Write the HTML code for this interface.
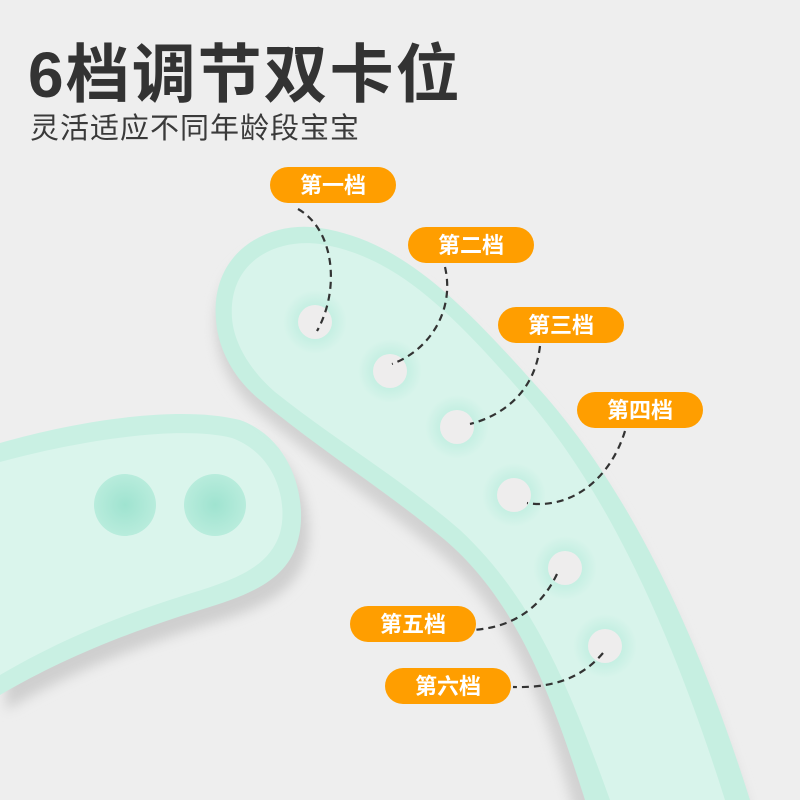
<!DOCTYPE html>
<html><head><meta charset="utf-8"><style>
html,body{margin:0;padding:0;width:800px;height:800px;overflow:hidden;background:#eeeeee}
svg{position:absolute;left:0;top:0}
.t{font-family:"Liberation Sans","Noto Sans CJK SC",sans-serif}
</style></head><body>
<svg width="800" height="800" viewBox="0 0 800 800">
<defs>
<filter id="sh" x="-20%" y="-20%" width="140%" height="140%"><feGaussianBlur stdDeviation="6"/></filter>
<radialGradient id="btn" cx="50%" cy="50%" r="50%"><stop offset="0" stop-color="#9fe3d0"/><stop offset="1" stop-color="#b8ecdc"/></radialGradient>
<radialGradient id="ring" cx="50%" cy="50%" r="50%"><stop offset="0.5" stop-color="#c4efe2"/><stop offset="1" stop-color="#d8f4eb"/></radialGradient>
</defs>
<path d="M0 448 C80 425 180 408 240 425 C295 445 310 510 300 545 C290 585 250 600 200 615 C120 640 60 665 0 700 Z" fill="#cfcfcf" filter="url(#sh)" transform="translate(6,10)"/>
<path d="M0 443 C80 420 180 405 240 420 C295 440 308 505 298 540 C288 580 250 595 200 610 C120 635 60 660 0 695 Z" fill="#c9f0e3"/>
<path d="M0 462 C80 440 180 425 232 438 C278 455 288 505 280 533 C270 565 240 578 195 592 C120 615 60 640 0 675 Z" fill="#daf5ec"/>
<circle cx="125" cy="505" r="31" fill="url(#btn)"/>
<circle cx="215" cy="505" r="31" fill="url(#btn)"/>
<path d="M216 320 C210 250 270 220 320 228 C400 240 460 300 540 390 C620 480 690 610 750 800 L575 800 C545 690 510 600 440 540 C380 490 320 450 260 400 C235 380 218 350 216 320 Z" fill="#d2d2d2" filter="url(#sh)" transform="translate(0,14)"/>
<path d="M216 320 C210 250 270 220 320 228 C400 240 460 300 540 390 C620 480 690 610 750 800 L585 800 C550 690 515 600 445 540 C385 490 320 450 260 400 C235 380 218 350 216 320 Z" fill="#c6efe1"/>
<path d="M232 318 C228 262 275 238 320 244 C395 256 450 310 528 400 C600 485 665 610 725 800 L610 800 C570 690 535 600 460 530 C400 478 335 440 275 392 C252 372 234 345 232 318 Z" fill="#d8f4eb"/>
<g>
<circle cx="315" cy="322" r="32" fill="url(#ring)"/><circle cx="315" cy="322" r="17" fill="#eeeded"/>
<circle cx="390" cy="371" r="32" fill="url(#ring)"/><circle cx="390" cy="371" r="17" fill="#eeeded"/>
<circle cx="457" cy="427" r="32" fill="url(#ring)"/><circle cx="457" cy="427" r="17" fill="#eeeded"/>
<circle cx="514" cy="495" r="32" fill="url(#ring)"/><circle cx="514" cy="495" r="17" fill="#eeeded"/>
<circle cx="565" cy="568" r="32" fill="url(#ring)"/><circle cx="565" cy="568" r="17" fill="#eeeded"/>
<circle cx="605" cy="646" r="32" fill="url(#ring)"/><circle cx="605" cy="646" r="17" fill="#eeeded"/>
</g>
<g fill="none" stroke="#333" stroke-width="2.2" stroke-dasharray="7,5">
<path d="M298 209 C335 230 340 290 317 331"/>
<path d="M445 267 C455 310 430 350 392 364"/>
<path d="M540 346 C535 390 505 415 470 424"/>
<path d="M625 431 C610 480 570 510 527 503"/>
<path d="M557 574 C540 610 510 628 472 630"/>
<path d="M603 653 C580 680 550 688 513 687"/>
</g>
<g class="t" font-size="22" font-weight="bold" fill="#fff" text-anchor="middle">
<rect x="270" y="167" width="126" height="36" rx="18" fill="#ff9e00"/><text x="333" y="193">第一档</text>
<rect x="408" y="227" width="126" height="36" rx="18" fill="#ff9e00"/><text x="471" y="253">第二档</text>
<rect x="498" y="307" width="126" height="36" rx="18" fill="#ff9e00"/><text x="561" y="333">第三档</text>
<rect x="577" y="392" width="126" height="36" rx="18" fill="#ff9e00"/><text x="640" y="418">第四档</text>
<rect x="350" y="606" width="126" height="36" rx="18" fill="#ff9e00"/><text x="413" y="632">第五档</text>
<rect x="385" y="668" width="126" height="36" rx="18" fill="#ff9e00"/><text x="448" y="694">第六档</text>
</g>
<text class="t" x="28" y="97" font-size="64" font-weight="bold" fill="#333" letter-spacing="2">6档调节双卡位</text>
<text class="t" x="30" y="138" font-size="29" fill="#3a3a3a" letter-spacing="1">灵活适应不同年龄段宝宝</text>
</svg>
</body></html>
